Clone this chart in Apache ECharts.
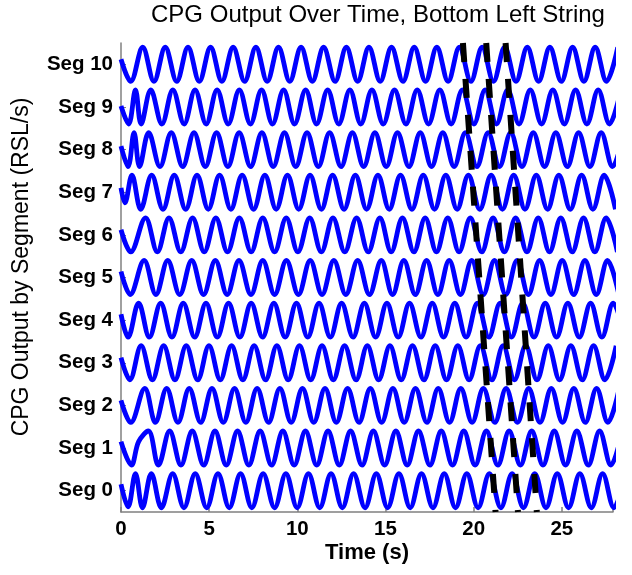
<!DOCTYPE html>
<html><head><meta charset="utf-8">
<script src="https://cdn.jsdelivr.net/npm/echarts@6/dist/echarts.min.js"></script>
<style>html,body{margin:0;padding:0;background:#fff}#c{width:632px;height:575px}</style>
</head><body><div id="c"></div>
<script>
// Segment labels (y categories)
const segLabels = ['Seg 0','Seg 1','Seg 2','Seg 3','Seg 4','Seg 5','Seg 6','Seg 7','Seg 8','Seg 9','Seg 10'];
const xTicks = [0, 5, 10, 15, 20, 25];
// CPG output per segment: [time (s), output offset] at start and at each extremum
const seg0 = [[0,0.15],[0.40,-0.38],[0.82,0.4],[1.22,-0.4],[1.72,0.4],[2.29,-0.4],[2.93,0.4],[3.57,-0.4],[4.21,0.4],[4.86,-0.4],[5.50,0.4],[6.14,-0.4],[6.78,0.4],[7.42,-0.4],[8.06,0.4],[8.71,-0.4],[9.35,0.4],[9.99,-0.4],[10.63,0.4],[11.27,-0.4],[11.91,0.4],[12.55,-0.4],[13.19,0.4],[13.84,-0.4],[14.48,0.4],[15.12,-0.4],[15.76,0.4],[16.40,-0.4],[17.04,0.4],[17.69,-0.4],[18.33,0.4],[18.97,-0.4],[19.61,0.4],[20.25,-0.4],[20.89,0.4],[21.54,-0.4],[22.18,0.4],[22.82,-0.4],[23.46,0.4],[24.10,-0.4],[24.74,0.4],[25.38,-0.4],[26.02,0.4],[26.67,-0.4],[27.31,0.4],[27.95,-0.4],[28.59,0.4]];
const seg1 = [[0,0.15],[0.59,-0.4],[1.00,0.15],[1.55,0.4],[2.12,-0.4],[2.76,0.4],[3.40,-0.4],[4.04,0.4],[4.69,-0.4],[5.33,0.4],[5.97,-0.4],[6.61,0.4],[7.25,-0.4],[7.89,0.4],[8.54,-0.4],[9.18,0.4],[9.82,-0.4],[10.46,0.4],[11.10,-0.4],[11.74,0.4],[12.38,-0.4],[13.02,0.4],[13.67,-0.4],[14.31,0.4],[14.95,-0.4],[15.59,0.4],[16.23,-0.4],[16.87,0.4],[17.52,-0.4],[18.16,0.4],[18.80,-0.4],[19.44,0.4],[20.08,-0.4],[20.72,0.4],[21.37,-0.4],[22.01,0.4],[22.65,-0.4],[23.29,0.4],[23.93,-0.4],[24.57,0.4],[25.21,-0.4],[25.85,0.4],[26.50,-0.4],[27.14,0.4],[27.78,-0.4],[28.42,0.4]];
const seg2 = [[0,0.12],[0.55,-0.4],[1.35,0.4],[1.95,-0.4],[2.59,0.4],[3.23,-0.4],[3.87,0.4],[4.52,-0.4],[5.16,0.4],[5.80,-0.4],[6.44,0.4],[7.08,-0.4],[7.72,0.4],[8.37,-0.4],[9.01,0.4],[9.65,-0.4],[10.29,0.4],[10.93,-0.4],[11.57,0.4],[12.21,-0.4],[12.85,0.4],[13.50,-0.4],[14.14,0.4],[14.78,-0.4],[15.42,0.4],[16.06,-0.4],[16.70,0.4],[17.35,-0.4],[17.99,0.4],[18.63,-0.4],[19.27,0.4],[19.91,-0.4],[20.55,0.4],[21.20,-0.4],[21.84,0.4],[22.48,-0.4],[23.12,0.4],[23.76,-0.4],[24.40,0.4],[25.04,-0.4],[25.68,0.4],[26.33,-0.4],[26.97,0.4],[27.61,-0.4],[28.25,0.4]];
const seg3 = [[0,0.12],[0.50,-0.4],[1.14,0.4],[1.78,-0.4],[2.42,0.4],[3.06,-0.4],[3.70,0.4],[4.35,-0.4],[4.99,0.4],[5.63,-0.4],[6.27,0.4],[6.91,-0.4],[7.55,0.4],[8.20,-0.4],[8.84,0.4],[9.48,-0.4],[10.12,0.4],[10.76,-0.4],[11.40,0.4],[12.04,-0.4],[12.68,0.4],[13.33,-0.4],[13.97,0.4],[14.61,-0.4],[15.25,0.4],[15.89,-0.4],[16.53,0.4],[17.18,-0.4],[17.82,0.4],[18.46,-0.4],[19.10,0.4],[19.74,-0.4],[20.38,0.4],[21.03,-0.4],[21.67,0.4],[22.31,-0.4],[22.95,0.4],[23.59,-0.4],[24.23,0.4],[24.87,-0.4],[25.51,0.4],[26.16,-0.4],[26.80,0.4],[27.44,-0.4],[28.08,0.4]];
const seg4 = [[0,0.14],[0.40,-0.4],[1.00,0.4],[1.61,-0.4],[2.25,0.4],[2.89,-0.4],[3.53,0.4],[4.18,-0.4],[4.82,0.4],[5.46,-0.4],[6.10,0.4],[6.74,-0.4],[7.38,0.4],[8.03,-0.4],[8.67,0.4],[9.31,-0.4],[9.95,0.4],[10.59,-0.4],[11.23,0.4],[11.87,-0.4],[12.51,0.4],[13.16,-0.4],[13.80,0.4],[14.44,-0.4],[15.08,0.4],[15.72,-0.4],[16.36,0.4],[17.01,-0.4],[17.65,0.4],[18.29,-0.4],[18.93,0.4],[19.57,-0.4],[20.21,0.4],[20.86,-0.4],[21.50,0.4],[22.14,-0.4],[22.78,0.4],[23.42,-0.4],[24.06,0.4],[24.70,-0.4],[25.34,0.4],[25.99,-0.4],[26.63,0.4],[27.27,-0.4],[27.91,0.4],[28.55,-0.4]];
const seg5 = [[0,0.14],[0.52,-0.4],[1.31,0.4],[1.98,-0.4],[2.65,0.4],[3.33,-0.4],[4.01,0.4],[4.68,-0.4],[5.35,0.4],[6.02,-0.4],[6.69,0.4],[7.37,-0.4],[8.04,0.4],[8.71,-0.4],[9.38,0.4],[10.06,-0.4],[10.73,0.4],[11.40,-0.4],[12.07,0.4],[12.75,-0.4],[13.42,0.4],[14.09,-0.4],[14.76,0.4],[15.40,-0.4],[16.04,0.4],[16.69,-0.4],[17.33,0.4],[17.97,-0.4],[18.61,0.4],[19.25,-0.4],[19.89,0.4],[20.54,-0.4],[21.18,0.4],[21.82,-0.4],[22.46,0.4],[23.10,-0.4],[23.74,0.4],[24.38,-0.4],[25.02,0.4],[25.67,-0.4],[26.31,0.4],[26.95,-0.4],[27.59,0.4],[28.23,-0.4]];
const seg6 = [[0,0.12],[0.55,-0.4],[1.39,0.4],[2.06,-0.4],[2.72,0.4],[3.39,-0.4],[4.06,0.4],[4.72,-0.4],[5.38,0.4],[6.04,-0.4],[6.71,0.4],[7.38,-0.4],[8.04,0.4],[8.71,-0.4],[9.37,0.4],[10.03,-0.4],[10.70,0.4],[11.36,-0.4],[12.02,0.4],[12.69,-0.4],[13.36,0.4],[14.02,-0.4],[14.68,0.4],[15.32,-0.4],[15.96,0.4],[16.61,-0.4],[17.25,0.4],[17.89,-0.4],[18.53,0.4],[19.17,-0.4],[19.81,0.4],[20.46,-0.4],[21.10,0.4],[21.74,-0.4],[22.38,0.4],[23.02,-0.4],[23.66,0.4],[24.30,-0.4],[24.94,0.4],[25.59,-0.4],[26.23,0.4],[26.87,-0.4],[27.51,0.4],[28.15,-0.4]];
const seg7 = [[0,0.1],[0.22,-0.25],[0.62,0.4],[1.12,-0.4],[1.74,0.4],[2.38,-0.4],[3.02,0.4],[3.67,-0.4],[4.31,0.4],[4.95,-0.4],[5.59,0.4],[6.23,-0.4],[6.87,0.4],[7.52,-0.4],[8.16,0.4],[8.80,-0.4],[9.44,0.4],[10.08,-0.4],[10.72,0.4],[11.36,-0.4],[12.00,0.4],[12.65,-0.4],[13.29,0.4],[13.93,-0.4],[14.57,0.4],[15.21,-0.4],[15.85,0.4],[16.50,-0.4],[17.14,0.4],[17.78,-0.4],[18.42,0.4],[19.06,-0.4],[19.70,0.4],[20.35,-0.4],[20.99,0.4],[21.63,-0.4],[22.27,0.4],[22.91,-0.4],[23.55,0.4],[24.19,-0.4],[24.83,0.4],[25.48,-0.4],[26.12,0.4],[26.76,-0.4],[27.40,0.4],[28.04,-0.4]];
const seg8 = [[0,0.08],[0.40,-0.4],[0.74,0.4],[1.05,-0.4],[1.57,0.4],[2.21,-0.4],[2.85,0.4],[3.50,-0.4],[4.14,0.4],[4.78,-0.4],[5.42,0.4],[6.06,-0.4],[6.70,0.4],[7.35,-0.4],[7.99,0.4],[8.63,-0.4],[9.27,0.4],[9.91,-0.4],[10.55,0.4],[11.19,-0.4],[11.83,0.4],[12.48,-0.4],[13.12,0.4],[13.76,-0.4],[14.40,0.4],[15.04,-0.4],[15.68,0.4],[16.33,-0.4],[16.97,0.4],[17.61,-0.4],[18.25,0.4],[18.89,-0.4],[19.53,0.4],[20.18,-0.4],[20.82,0.4],[21.46,-0.4],[22.10,0.4],[22.74,-0.4],[23.38,0.4],[24.02,-0.4],[24.66,0.4],[25.31,-0.4],[25.95,0.4],[26.59,-0.4],[27.23,0.4],[27.87,-0.4],[28.51,0.4]];
const seg9 = [[0,0.02],[0.43,-0.4],[0.82,0.4],[1.14,-0.4],[1.69,0.4],[2.32,-0.4],[2.94,0.4],[3.58,-0.4],[4.20,0.4],[4.83,-0.4],[5.45,0.4],[6.08,-0.4],[6.71,0.4],[7.34,-0.4],[7.97,0.4],[8.59,-0.4],[9.22,0.4],[9.84,-0.4],[10.47,0.4],[11.09,-0.4],[11.72,0.4],[12.35,-0.4],[12.98,0.4],[13.60,-0.4],[14.23,0.4],[14.87,-0.4],[15.51,0.4],[16.16,-0.4],[16.80,0.4],[17.44,-0.4],[18.08,0.4],[18.72,-0.4],[19.36,0.4],[20.01,-0.4],[20.65,0.4],[21.29,-0.4],[21.93,0.4],[22.57,-0.4],[23.21,0.4],[23.85,-0.4],[24.49,0.4],[25.14,-0.4],[25.78,0.4],[26.42,-0.4],[27.06,0.4],[27.70,-0.4],[28.34,0.4]];
const seg10 = [[0,0.12],[0.55,-0.4],[1.23,0.4],[1.87,-0.4],[2.51,0.4],[3.16,-0.4],[3.80,0.4],[4.44,-0.4],[5.08,0.4],[5.72,-0.4],[6.36,0.4],[7.01,-0.4],[7.65,0.4],[8.29,-0.4],[8.93,0.4],[9.57,-0.4],[10.21,0.4],[10.85,-0.4],[11.49,0.4],[12.14,-0.4],[12.78,0.4],[13.42,-0.4],[14.06,0.4],[14.70,-0.4],[15.34,0.4],[15.99,-0.4],[16.63,0.4],[17.27,-0.4],[17.91,0.4],[18.55,-0.4],[19.19,0.4],[19.84,-0.4],[20.48,0.4],[21.12,-0.4],[21.76,0.4],[22.40,-0.4],[23.04,0.4],[23.68,-0.4],[24.32,0.4],[24.97,-0.4],[25.61,0.4],[26.25,-0.4],[26.89,0.4],[27.53,-0.4],[28.17,0.4]];
// Dashed wave-front lines: time at top (y=10.5) and bottom (y=-0.5)
const dashTopT = [19.39, 20.71, 21.81];
const dashBottomT = [21.24, 22.51, 23.58];

const segData = [seg0, seg1, seg2, seg3, seg4, seg5, seg6, seg7, seg8, seg9, seg10];
const FONT = '"Liberation Sans", Arial, Helvetica, sans-serif';
const chart = echarts.init(document.getElementById('c'), null, {renderer: 'canvas'});
const series = segData.map((d, k) => ({
  type: 'line', xAxisIndex: 0, yAxisIndex: 0,
  data: d.map(p => [p[0], k + p[1]]),
  smooth: 0.36, symbol: 'none', clip: true, silent: true,
  lineStyle: {color: '#0000ff', width: 4.8}, z: 2
}));
dashTopT.forEach((t, i) => {
  series.push({
    type: 'line', xAxisIndex: 0, yAxisIndex: 0,
    data: [[t, 10.5], [dashBottomT[i], -0.5]],
    symbol: 'none', clip: false, silent: true,
    lineStyle: {color: '#000', width: 6, type: [19, 17], cap: 'butt'}, z: 5
  });
});
chart.setOption({
  animation: false,
  backgroundColor: '#fff',
  grid: {left: 121, right: 19, top: 43, bottom: 63, containLabel: false},
  xAxis: [{
    type: 'value', min: 0, max: 27.9, interval: 5,
    axisLine: {show: true, onZero: false, lineStyle: {color: '#808080', width: 1.5}},
    axisTick: {show: true, inside: true, length: 5, lineStyle: {color: '#808080', width: 1.5}},
    axisLabel: {fontFamily: FONT, fontSize: 20.5, fontWeight: 'bold', color: '#000', margin: 7,
      formatter: v => xTicks.indexOf(v) >= 0 ? String(v) : ''},
    splitLine: {show: false}
  }],
  yAxis: [{
    type: 'value', min: -0.5, max: 10.5, show: false
  }, {
    type: 'category', data: segLabels, position: 'left',
    axisLine: {show: true, onZero: false, lineStyle: {color: '#808080', width: 1.5}},
    axisTick: {show: true, inside: true, length: 5, alignWithLabel: true, lineStyle: {color: '#808080'}},
    axisLabel: {fontFamily: FONT, fontSize: 20.5, fontWeight: 'bold', color: '#000', margin: 8},
    splitLine: {show: false}
  }],
  graphic: [
    {type: 'text', x: 378, y: 15, style: {text: 'CPG Output Over Time, Bottom Left String',
      font: '24px ' + FONT, fill: '#000', textAlign: 'center', textVerticalAlign: 'middle'}},
    {type: 'text', x: 367, y: 553, style: {text: 'Time (s)', font: 'bold 22px ' + FONT, fill: '#000',
      textAlign: 'center', textVerticalAlign: 'middle'}},
    {type: 'text', x: 22, y: 267, rotation: Math.PI / 2, style: {text: 'CPG Output by Segment (RSL/s)',
      font: '23px ' + FONT, fill: '#000', textAlign: 'center', textVerticalAlign: 'middle'}}
  ],
  series: series
});
</script></body></html>
